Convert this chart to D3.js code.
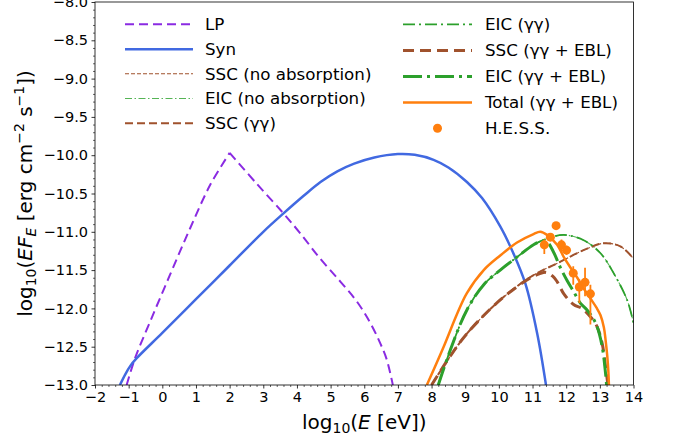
<!DOCTYPE html>
<html><head><meta charset="utf-8">
<script src="https://cdn.jsdelivr.net/npm/d3@7"></script>
<style>
body{margin:0;background:#fff}
svg{display:block;font-family:"DejaVu Sans",sans-serif}
</style>
</head><body>
<svg id="chart" width="676" height="440"></svg>
<script>
// ---- data (log10 E [eV], log10 EF_E [erg cm^-2 s^-1]) ----
const xTicks = [-2,-1,0,1,2,3,4,5,6,7,8,9,10,11,12,13,14];
const yTicks = [-13,-12.5,-12,-11.5,-11,-10.5,-10,-9.5,-9,-8.5,-8];

const lpData = [[-1.06,-13.0],[-0.81,-12.65],[-0.36,-12.17],[0.23,-11.56],[0.83,-10.95],[1.42,-10.39],[2.0,-9.97],
  [2.8,-10.37],[3.6,-10.76],[4.1,-11.02],[4.69,-11.35],[5.29,-11.65],[5.78,-11.91],[6.18,-12.19],[6.48,-12.46],[6.67,-12.67],[6.85,-13.0]];
const synData = [[-1.26,-13.0],[-1.1,-12.86],[-0.95,-12.75],[-0.76,-12.65],[0,-12.32],[1,-11.88],[2,-11.44],[3,-11.0],[3.6,-10.76],
  [4.2,-10.53],[4.7,-10.35],[5.2,-10.21],[5.7,-10.11],[6.3,-10.03],[7.0,-9.985],[7.5,-9.995],[8.06,-10.06],[8.5,-10.16],[9.05,-10.35],
  [9.5,-10.56],[10.04,-10.93],[10.4,-11.25],[10.79,-11.68],[11.14,-12.33],[11.4,-13.0]];
const sscNoAbs = [[8.0,-13.0],[8.5,-12.66],[9.05,-12.33],[10.04,-11.89],[10.94,-11.59],[11.83,-11.39],[12.62,-11.22],[13.12,-11.15],[13.61,-11.19],[14.0,-11.35]];
const eicNoAbs = [[8.2,-13.0],[8.56,-12.54],[9.05,-12.02],[9.55,-11.69],[10.04,-11.5],[10.54,-11.33],[11.03,-11.17],[11.5,-11.08],[11.93,-11.04],
  [12.52,-11.11],[13.02,-11.28],[13.41,-11.54],[13.81,-11.89],[14.0,-12.19]];
const sscGG = [[8.0,-13.0],[8.5,-12.66],[9.05,-12.33],[10.04,-11.89],[10.94,-11.59],[11.83,-11.39],[12.62,-11.22],[13.12,-11.15],[13.61,-11.19],[14.0,-11.35]];
const eicGG = [[8.2,-13.0],[8.56,-12.54],[9.05,-12.02],[9.55,-11.69],[10.04,-11.5],[10.54,-11.33],[11.03,-11.17],[11.5,-11.08],[11.93,-11.04],
  [12.52,-11.11],[13.02,-11.28],[13.41,-11.54],[13.81,-11.89],[14.0,-12.19]];
const sscEBL = [[8.0,-13.0],[8.5,-12.66],[9.05,-12.33],[10.04,-11.89],[10.94,-11.6],[11.2,-11.55],[11.4,-11.53],[11.6,-11.58],[11.73,-11.65],
  [11.93,-11.81],[12.22,-11.95],[12.47,-12.0],[12.72,-12.11],[12.92,-12.24],[13.07,-12.46],[13.17,-12.76],[13.24,-13.0]];
const eicEBL = [[8.2,-13.0],[8.56,-12.54],[9.05,-12.02],[9.55,-11.69],[10.04,-11.5],[10.54,-11.33],[11.03,-11.17],[11.3,-11.12],[11.45,-11.14],
  [11.63,-11.27],[11.83,-11.47],[12.03,-11.64],[12.22,-11.78],[12.42,-11.93],[12.62,-12.02],[12.8,-12.13],[12.92,-12.24],[13.07,-12.5],[13.17,-12.85],[13.2,-13.0]];
const totalData = [[7.86,-13.0],[8.36,-12.5],[8.76,-12.07],[9.05,-11.8],[9.55,-11.5],[10.04,-11.31],[10.54,-11.14],[11.03,-11.03],[11.23,-11.0],
  [11.43,-11.04],[11.73,-11.17],[11.93,-11.33],[12.13,-11.47],[12.33,-11.6],[12.52,-11.74],[12.72,-11.87],[12.9,-11.99],[13.02,-12.09],
  [13.12,-12.25],[13.17,-12.41],[13.22,-12.62],[13.25,-12.8],[13.27,-13.0]];

const hessX  = [11.35, 11.53, 11.70, 11.86, 12.01, 12.21, 12.39, 12.56, 12.72];
const hessY  = [-11.17,-11.07,-10.92,-11.17,-11.24,-11.54,-11.72,-11.66,-11.81];
const hessLo = [-11.29,-11.12,-10.96,-11.27,-11.30,-11.69,-11.93,-11.84,-12.21];
const hessHi = [-11.10,-11.02,-10.88,-11.10,-11.18,-11.45,-11.62,-11.47,-11.69];

// ---- styles ----
const BROWN = "#a0522d", GREEN = "#2ca02c", ORANGE = "#ff7f0e";
const smooth = d3.curveCatmullRom.alpha(0.5);
const series = [
  {name:"LP", data:lpData, color:"#8a2be2", w:2, dash:"9,5", splitPeak:true, col:0},
  {name:"Syn", data:synData, color:"#4169e1", w:2.5, dash:null, col:0},
  {name:"SSC (no absorption)", data:sscNoAbs, color:BROWN, w:1.1, dash:"4,2", col:0},
  {name:"EIC (no absorption)", data:eicNoAbs, color:"#55b455", w:1.1, dash:"7,2.5,1.5,2.5", col:0},
  {name:"SSC (γγ)", data:sscGG, color:BROWN, w:2, dash:"8,4", col:0},
  {name:"EIC (γγ)", data:eicGG, color:GREEN, w:1.8, dash:"12,4,2,4", col:1},
  {name:"SSC (γγ + EBL)", data:sscEBL, color:BROWN, w:3, dash:"11,6", col:1},
  {name:"EIC (γγ + EBL)", data:eicEBL, color:GREEN, w:3, dash:"19,5,3,5", col:1},
  {name:"Total (γγ + EBL)", data:totalData, color:ORANGE, w:2.5, dash:null, col:1}
];

const svg = d3.select("#chart");
const L = 95, R = 633.5, T = 2, B = 385;
const x = d3.scaleLinear().domain([-2,14]).range([L,R]);
const y = d3.scaleLinear().domain([-13,-8]).range([B,T]);

svg.append("clipPath").attr("id","clip").append("rect")
  .attr("x",L).attr("y",T).attr("width",R-L).attr("height",B-T);

const plot = svg.append("g").attr("clip-path","url(#clip)");
const line = d3.line().x(d=>x(d[0])).y(d=>y(d[1])).curve(smooth);

series.forEach(s=>{
  let pieces = [s.data];
  if (s.splitPeak) {
    const k = d3.maxIndex(s.data, d=>d[1]);
    pieces = [s.data.slice(0,k+1), s.data.slice(k)];
  }
  const path = pieces.map(p=>line(p)).join("");
  plot.append("path").attr("d", path)
    .attr("fill","none").attr("stroke",s.color).attr("stroke-width",s.w)
    .attr("stroke-dasharray",s.dash).attr("stroke-linejoin","miter");
});

// H.E.S.S. points
const hess = hessX.map((v,i)=>({x:v,y:hessY[i],lo:hessLo[i],hi:hessHi[i]}));
plot.selectAll("line.err").data(hess).join("line").attr("class","err")
  .attr("x1",d=>x(d.x)).attr("x2",d=>x(d.x)).attr("y1",d=>y(d.lo)).attr("y2",d=>y(d.hi))
  .attr("stroke",ORANGE).attr("stroke-width",1.8);
plot.selectAll("circle.pt").data(hess).join("circle").attr("class","pt")
  .attr("cx",d=>x(d.x)).attr("cy",d=>y(d.y)).attr("r",4.5).attr("fill",ORANGE);

// axes
const xMinor = d3.range(-2,14.001,0.2).map(v=>+v.toFixed(2)).filter(v=>Math.abs(v-Math.round(v))>1e-6);
const yMinor = d3.range(-13,-7.999,0.1).map(v=>+v.toFixed(2)).filter(v=>Math.abs(v*2-Math.round(v*2))>1e-6);

const gxm = svg.append("g").attr("transform",`translate(0,${B})`)
  .call(d3.axisBottom(x).tickValues(xMinor).tickSize(2).tickFormat(""));
const gym = svg.append("g").attr("transform",`translate(${L},0)`)
  .call(d3.axisLeft(y).tickValues(yMinor).tickSize(2).tickFormat(""));
[gxm,gym].forEach(g=>{g.select(".domain").remove(); g.selectAll("line").attr("stroke","#000").attr("stroke-width",0.6);});

const gx = svg.append("g").attr("transform",`translate(0,${B})`)
  .call(d3.axisBottom(x).tickValues(xTicks).tickSize(3.5).tickPadding(3.5).tickFormat(d3.format("d")));
const gy = svg.append("g").attr("transform",`translate(${L},0)`)
  .call(d3.axisLeft(y).tickValues(yTicks).tickSize(3.5).tickPadding(3.5).tickFormat(d3.format(".1f")));
[gx,gy].forEach(g=>{
  g.select(".domain").remove();
  g.selectAll("line").attr("stroke","#000").attr("stroke-width",0.8);
  g.selectAll("text").attr("font-size",14.5).attr("fill","#000").attr("font-family","DejaVu Sans");
});

svg.append("rect").attr("x",L).attr("y",T).attr("width",R-L).attr("height",B-T)
  .attr("fill","none").attr("stroke","#000").attr("stroke-width",0.8);

// axis labels
const xl = svg.append("text").attr("x",(L+R)/2).attr("y",429).attr("text-anchor","middle").attr("font-size",20);
xl.append("tspan").text("log");
xl.append("tspan").attr("font-size",14).attr("dy",4).text("10");
xl.append("tspan").attr("dy",-4).text("(");
xl.append("tspan").attr("font-style","italic").text("E");
xl.append("tspan").text(" [eV])");

const yl = svg.append("text").attr("transform",`translate(32,${(T+B)/2}) rotate(-90)`)
  .attr("text-anchor","middle").attr("font-size",20);
yl.append("tspan").text("log");
yl.append("tspan").attr("font-size",14).attr("dy",4).text("10");
yl.append("tspan").attr("dy",-4).text("(");
yl.append("tspan").attr("font-style","italic").text("EF");
yl.append("tspan").attr("font-style","italic").attr("font-size",14).attr("dy",4).text("E");
yl.append("tspan").attr("dy",-4).text(" [erg cm");
yl.append("tspan").attr("font-size",14).attr("dy",-8).text("−2");
yl.append("tspan").attr("dy",8).text(" s");
yl.append("tspan").attr("font-size",14).attr("dy",-8).text("−1");
yl.append("tspan").attr("dy",8).text("])");

// legend
const legRows = [[24.3,49.3,73.8,98.5,123.3],[24.3,50.5,76.5,102.5,128.3]];
const legX = [[125,193,205],[403,472,485]];
const legendItems = series.map(s=>({...s, marker:false})).concat([{name:"H.E.S.S.", col:1, marker:true}]);
const counters = [0,0];
const leg = svg.append("g");
legendItems.forEach(it=>{
  const c = it.col, r = counters[c]++;
  const ly = legRows[c][r], [x0,x1,tx] = legX[c];
  if (it.marker) {
    leg.append("circle").attr("cx",(x0+x1)/2).attr("cy",ly).attr("r",4.5).attr("fill",ORANGE);
  } else {
    leg.append("line").attr("x1",x0).attr("x2",x1).attr("y1",ly).attr("y2",ly)
      .attr("stroke",it.color).attr("stroke-width",it.w).attr("stroke-dasharray",it.dash);
  }
  leg.append("text").attr("x",tx).attr("y",ly+5.8).attr("font-size",16.7).attr("fill","#000").text(it.name);
});
</script>
</body></html>
